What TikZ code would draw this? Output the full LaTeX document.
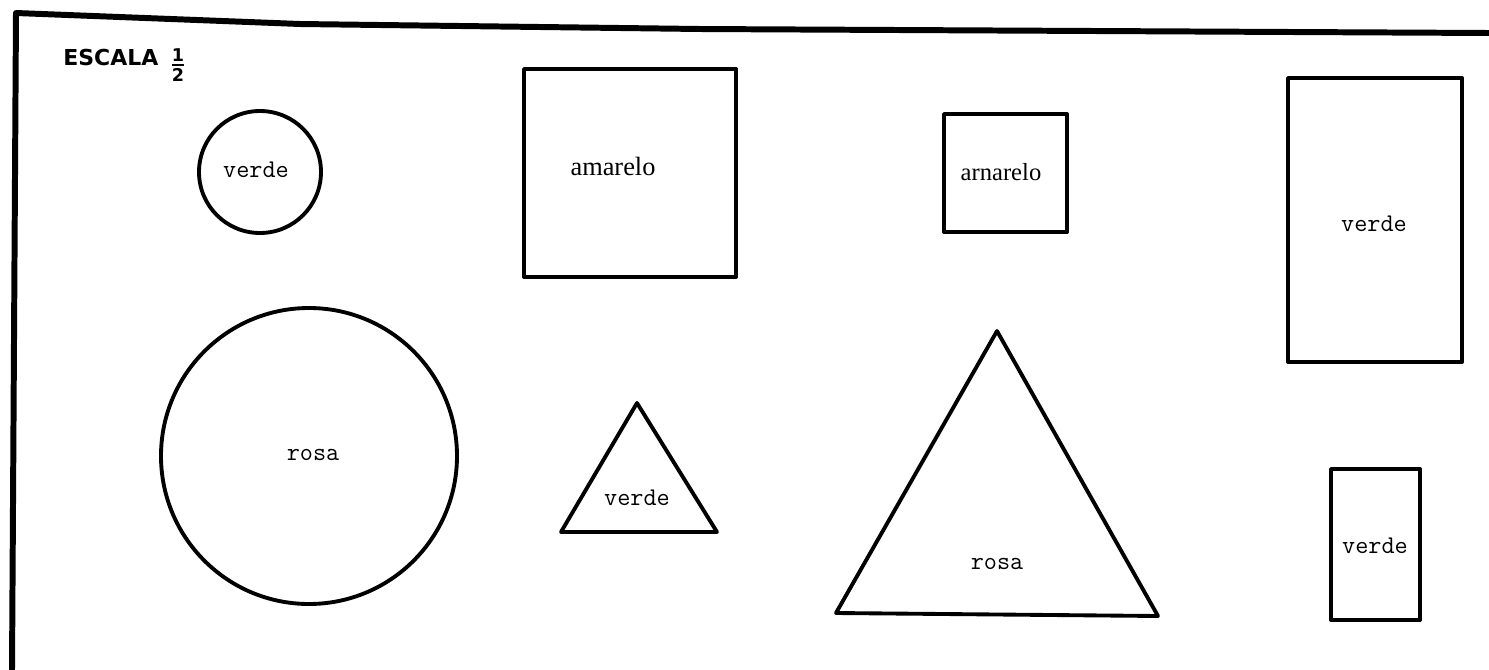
\documentclass[tikz,border=0pt]{standalone}
\usepackage{fontspec}
\setmainfont{Liberation Serif}
\newfontfamily\handfont{DejaVu Sans}
\usepackage{tikz}

\tikzset{
  outline/.style = {line width=2.2pt, line join=round, line cap=round},
  monolabel/.style = {font=\ttfamily\fontsize{14.5}{16}\selectfont},
  seriflabel/.style = {font=\rmfamily\fontsize{15}{17}\selectfont},
  handlabel/.style = {font=\handfont\bfseries\fontsize{12.5}{14}\selectfont},
}

\begin{document}
\begin{tikzpicture}[x=0.02cm, y=-0.02cm]
	\useasboundingbox (0,0) rectangle (1489,670);
	% frame of the sheet
	\draw[line width=3.4pt, line join=round] (12,670) -- (16,13) -- (300,24) -- (700,29) -- (1489,33);
	\node (scale) [handlabel, anchor=base west, inner sep=0pt] at (63,65) {ESCALA};
	\node (half) [handlabel, font=\handfont\bfseries\fontsize{10}{11}\selectfont, inner sep=0pt] at (178,65) {$\mbox{1}\above 1.3pt \mbox{2}$};

	% shapes
	\draw[outline] (260,172) circle (61);
	\draw[outline] (309,456) circle (148);
	\draw[outline] (524,69) rectangle (736,277);
	\draw[outline] (944,114) rectangle (1067,232);
	\draw[outline] (1288,78) rectangle (1462,362);
	\draw[outline] (1331,469) rectangle (1420,620);
	\draw[outline] (637,403) -- (717,532) -- (561,532) -- cycle;
	\draw[outline] (997,331) -- (1158,616) -- (836,613) -- cycle;

	% colour names
	\node (A) [monolabel] at (256,170) {verde};
	\node (B) [seriflabel] at (613,166) {amarelo};
	\node (C) [seriflabel, font=\rmfamily\fontsize{14}{16}\selectfont] at (1001,172) {arnarelo};
	\node (D) [monolabel] at (1374,224) {verde};
	\node (E) [monolabel] at (313,455) {rosa};
	\node (F) [monolabel] at (637,498) {verde};
	\node (G) [monolabel] at (997,564) {rosa};
	\node (H) [monolabel] at (1375,546) {verde};
\end{tikzpicture}
\end{document}
